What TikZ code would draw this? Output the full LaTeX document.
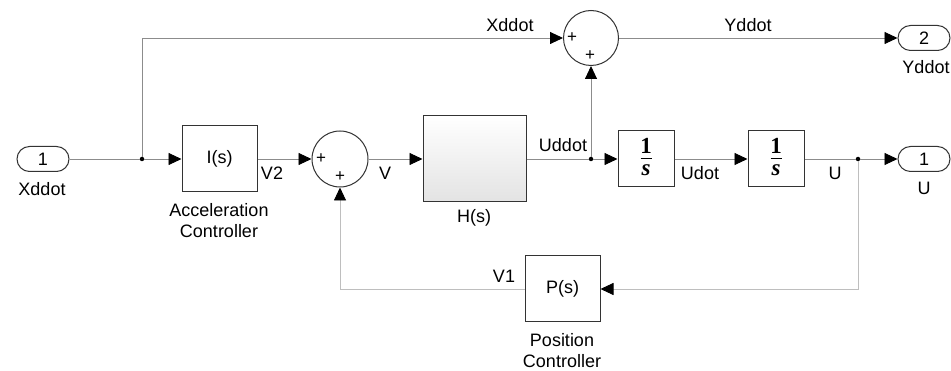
\documentclass[tikz,border=0pt]{standalone}
\usepackage{fontspec}
\setmainfont{Liberation Sans}
\newfontfamily\serifb{Liberation Serif}
\usetikzlibrary{arrows.meta,shapes.misc}
\definecolor{lineg}{HTML}{8C8C8C}
\definecolor{fbg}{HTML}{BEBEBE}
\tikzset{
  sig/.style={draw=lineg, line width=0.9pt},
  fbsig/.style={draw=fbg, line width=0.9pt},
  arr/.style={-{Triangle[length=13pt,width=12pt,color=black,fill=black]}},
  blk/.style={draw=black!80, line width=1pt, fill=white, rectangle, inner sep=0pt},
  port/.style={draw=black!80, line width=1pt, fill=white, rounded rectangle, minimum width=52pt, minimum height=25pt, inner sep=0pt, font=\fontsize{18}{20}\selectfont},
  sumb/.style={draw=black!80, line width=1pt, fill=white, circle, inner sep=0pt},
  lbl/.style={font=\fontsize{18}{21}\selectfont, inner sep=0pt, align=center},
  pls/.style={font=\fontsize{17}{18}\selectfont, inner sep=0pt},
  bdot/.style={circle, fill=black, inner sep=0pt, minimum size=4.5pt},
  intg/.style={blk, minimum width=56pt, minimum height=56pt},
  fnum/.style={font=\fontsize{23}{24}\selectfont\serifb\bfseries, inner sep=0pt},
  fden/.style={font=\fontsize{23}{24}\selectfont\serifb\bfseries\itshape, inner sep=0pt},
  fbar/.style={draw=black, line width=1pt},
}
\begin{document}
\begin{tikzpicture}[x=1pt,y=-1pt]
\useasboundingbox (0,0) rectangle (951,371);
% blocks
\node[port] (in1) at (43,159) {1};
\node[lbl] (in1l) at (42,189) {Xddot};
\node[bdot] (dA) at (142,159) {};
\node[blk, minimum width=75pt, minimum height=66pt, font=\fontsize{18}{20}\selectfont] (Is) at (219.5,159) {I(s)};
\node[lbl] (Isl) at (219,221) {Acceleration\\Controller};
\node[sumb, minimum size=56pt] (s1) at (340,159) {};
\node[pls] (s1a) at (321,159) {+};
\node[pls] (s1b) at (340,177) {+};
\node[blk, minimum width=103pt, minimum height=86pt, top color=white, bottom color=gray!22] (H) at (474.5,159) {};
\node[lbl] (Hl) at (474,218) {H(s)};
\node[bdot] (dB) at (591,159) {};
\node[intg] (I1) at (646,159) {};
\node[fnum] (I1n) at (646,146) {1};
\draw[fbar] ([xshift=-5.5pt]I1.center) -- ([xshift=5.5pt]I1.center);
\node[fden] (I1d) at (646,170) {s};
\node[intg] (I2) at (776,159) {};
\node[fnum] (I2n) at (776,146) {1};
\draw[fbar] ([xshift=-5.5pt]I2.center) -- ([xshift=5.5pt]I2.center);
\node[fden] (I2d) at (776,170) {s};
\node[bdot] (dC) at (858,159) {};
\node[port] (out1) at (924,159) {1};
\node[lbl] (out1l) at (924,188) {U};
\node[sumb, minimum size=55pt] (s2) at (591,38) {};
\node[pls] (s2a) at (572,38) {+};
\node[pls] (s2b) at (590,56) {+};
\node[port] (out2) at (924,38) {2};
\node[lbl] (out2l) at (926,67) {Yddot};
\node[blk, minimum width=75pt, minimum height=66pt, font=\fontsize{18}{20}\selectfont] (P) at (562.5,289) {P(s)};
\node[lbl] (Pl) at (562,351) {Position\\Controller};
% connectors
\draw[sig] (in1.east) -- (dA);
\draw[sig,arr] (dA) -- (Is.west);
\draw[sig,arr] (dA) |- (s2.west);
\draw[sig,arr] (Is.east) -- (s1.west);
\draw[sig,arr] (s1.east) -- (H.west);
\draw[sig] (H.east) -- (dB);
\draw[sig,arr] (dB) -- (I1.west);
\draw[sig,arr] (dB) -- (s2.south);
\draw[sig,arr] (I1.east) -- (I2.west);
\draw[sig] (I2.east) -- (dC);
\draw[sig,arr] (dC) -- (out1.west);
\draw[sig,arr] (s2.east) -- (out2.west);
\draw[fbsig,arr] (dC) |- (P.east);
\draw[fbsig,arr] (P.west) -| (s1.south);
% signal labels
\node[lbl] (lX) at (510,25) {Xddot};
\node[lbl] (lY) at (748,25) {Yddot};
\node[lbl] (lV2) at (272,173) {V2};
\node[lbl] (lV) at (385,173) {V};
\node[lbl] (lUdd) at (563,145) {Uddot};
\node[lbl] (lUd) at (700,173) {Udot};
\node[lbl] (lU) at (835,173) {U};
\node[lbl] (lV1) at (504,276) {V1};
\end{tikzpicture}
\end{document}
